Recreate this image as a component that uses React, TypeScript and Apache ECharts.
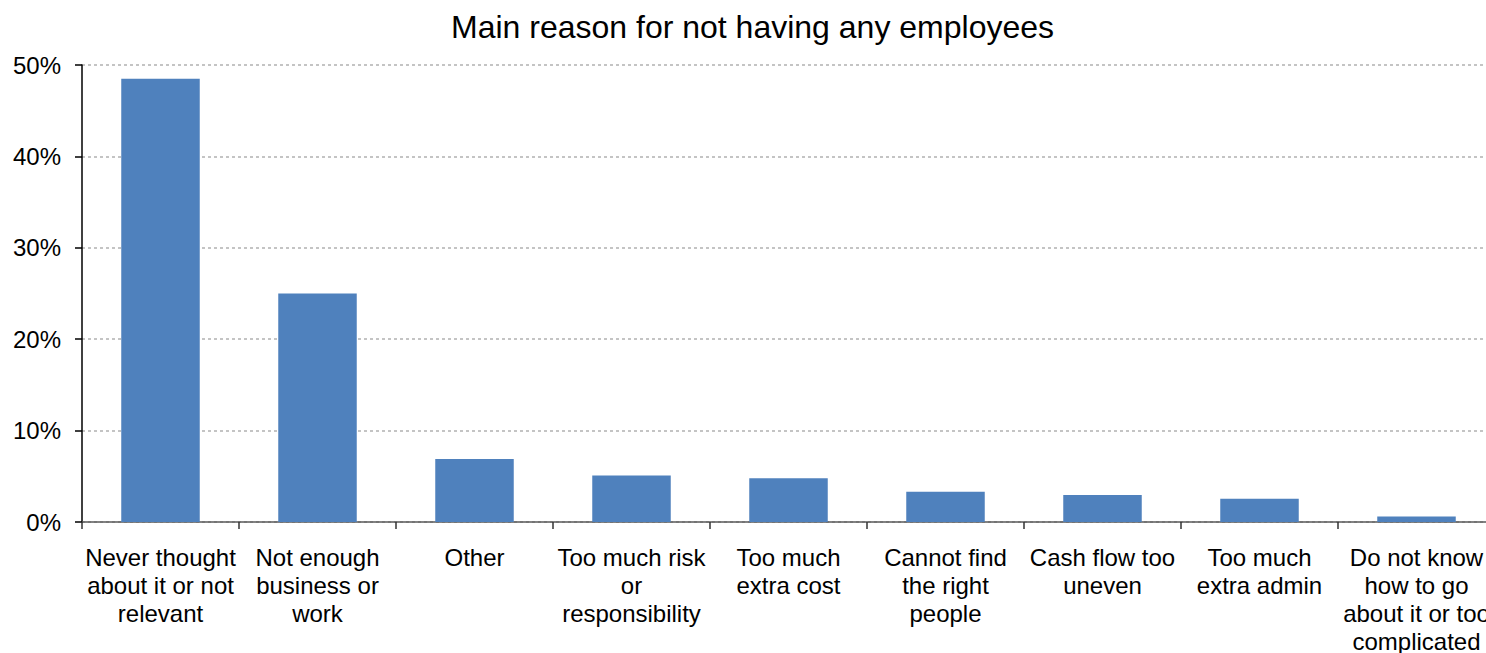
import React, { useEffect, useRef } from "react";
import * as echarts from "echarts";

const TITLE = "Main reason for not having any employees";

const categories = [
  "Never thought\nabout it or not\nrelevant",
  "Not enough\nbusiness or\nwork",
  "Other",
  "Too much risk\nor\nresponsibility",
  "Too much\nextra cost",
  "Cannot find\nthe right\npeople",
  "Cash flow too\nuneven",
  "Too much\nextra admin",
  "Do not know\nhow to go\nabout it or too\ncomplicated",
];

const values = [48.5, 25.0, 6.9, 5.1, 4.8, 3.3, 2.95, 2.55, 0.6];

const yTicks = { min: 0, max: 50, interval: 10 };

export default function App() {
  const ref = useRef<HTMLDivElement>(null);

  useEffect(() => {
    if (!ref.current) return;
    const chart = echarts.init(ref.current, null, { renderer: "svg" });
    const font = "'Liberation Sans', Arial, sans-serif";
    chart.setOption({
      animation: false,
      backgroundColor: "#ffffff",
      title: {
        text: TITLE,
        left: 446,
        top: 6,
        textStyle: {
          fontFamily: font,
          fontSize: 32,
          fontWeight: "normal",
          color: "#000000",
        },
      },
      grid: {
        left: 82,
        right: -9,
        top: 65,
        bottom: 131,
        outerBoundsMode: "none",
        containLabel: false,
      },
      xAxis: {
        type: "category",
        data: categories,
        axisLine: { show: true, lineStyle: { color: "#595959", width: 1.5 } },
        axisTick: { show: true, length: 7, lineStyle: { color: "#333333", width: 1.5 } },
        axisLabel: {
          interval: 0,
          margin: 21,
          fontFamily: font,
          fontSize: 24,
          lineHeight: 28,
          color: "#000000",
          align: "center",
        },
        splitLine: { show: false },
      },
      yAxis: {
        type: "value",
        min: yTicks.min,
        max: yTicks.max,
        interval: yTicks.interval,
        axisLine: { show: true, lineStyle: { color: "#000000", width: 1.5 } },
        axisTick: { show: true, length: 7, lineStyle: { color: "#000000", width: 1.5 } },
        axisLabel: {
          margin: 21,
          formatter: "{value}%",
          fontFamily: font,
          fontSize: 24,
          color: "#000000",
        },
        splitLine: {
          show: true,
          lineStyle: { color: "#c4c4c4", width: 2, type: [3, 3] },
        },
      },
      series: [
        {
          type: "bar",
          data: values,
          barWidth: "50%",
          itemStyle: { color: "#4f81bd" },
        },
      ],
    });
    return () => chart.dispose();
  }, []);

  return (
    <div
      ref={ref}
      style={{ position: "fixed", left: 0, top: 0, width: 1486, height: 653, overflow: "hidden" }}
    />
  );
}
